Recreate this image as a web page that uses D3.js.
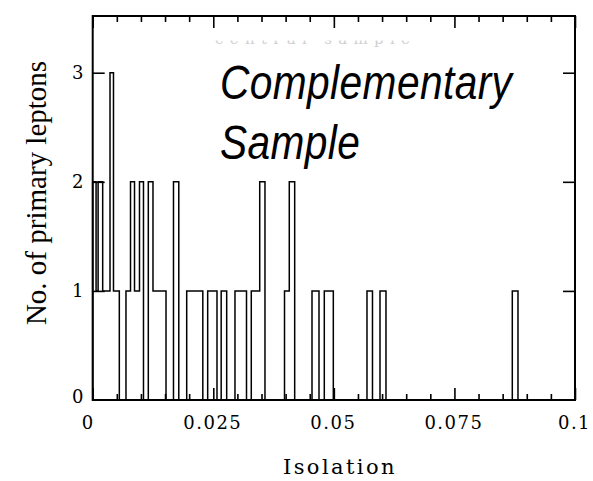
<!DOCTYPE html>
<html>
<head>
<meta charset="utf-8">
<script src="https://cdn.jsdelivr.net/npm/d3@7"></script>
<style>
  body { margin: 0; background: #fff; }
  svg { display: block; }
</style>
</head>
<body>
<svg id="chart" width="593" height="481"></svg>
<script>
// histogram read off the plot as steps:
// stepEdge = isolation value where the content changes, stepCount = content from there on
const stepEdge  = [0, 0.0007, 0.00112, 0.00207, 0.00359, 0.00431, 0.00552,
                   0.0069, 0.00784, 0.00867, 0.0097, 0.01053, 0.01153, 0.0125, 0.0152,
                   0.01675, 0.01785, 0.01949, 0.02283, 0.02384, 0.02577, 0.02664, 0.02778,
                   0.0295, 0.03189, 0.03288, 0.03463, 0.03572, 0.03977, 0.04076, 0.04188,
                   0.04547, 0.04692, 0.04802, 0.04989, 0.05687, 0.05801, 0.05957, 0.06081,
                   0.087, 0.08818];
const stepCount = [2, 1, 2, 1, 3, 1, 0,
                   1, 2, 1, 2, 0, 2, 1, 0,
                   2, 0, 1, 0, 1, 0, 1, 0,
                   1, 0, 1, 2, 0, 1, 2, 0,
                   1, 0, 1, 0, 1, 0, 1, 0,
                   1, 0];

const xMajor = [0, 0.025, 0.05, 0.075, 0.1];
const xMajorLabels = ["0", "0.025", "0.05", "0.075", "0.1"];
const xMinorStep = 0.005;
const yMajor = [0, 1, 2, 3];
const yMajorLabels = ["0", "1", "2", "3"];

const xTitle = "Isolation";
const yTitle = "No. of primary leptons";
const ghostLabel = "central sample";
const sampleLabel = ["Complementary", "Sample"];

// ---------------------------//
//      SCALES / FRAME        //
// ---------------------------//
const plotLeft = 92.7, plotRight = 575, plotTop = 16, plotBottom = 400;
const svg = d3.select("#chart");

const x = d3.scaleLinear().domain([0, 0.1]).range([plotLeft, plotRight]);
const y = d3.scaleLinear().domain([0, 3.52]).range([plotBottom, plotTop]);

const xMinor = d3.range(0, 0.1 + 1e-9, xMinorStep).filter(v => !xMajor.some(m => Math.abs(m - v) < 1e-9));

// ghost label hidden behind the white box of the big label
svg.append("text")
  .attr("x", 215).attr("y", 44)
  .attr("textLength", 195)
  .style("font-family", "DejaVu Serif")
  .style("font-size", "15px")
  .style("fill", "#d0d0d0")
  .text(ghostLabel);
svg.append("rect")
  .attr("x", 205).attr("y", 30).attr("width", 220).attr("height", 10.5)
  .attr("fill", "#fff");

// ticks
function tickAxis(axis, size, vals, fmt) {
  return axis.tickValues(vals).tickSize(size).tickFormat(fmt || "");
}
const tickStyle = g => {
  g.select(".domain").remove();
  g.selectAll("line").attr("stroke", "#000").attr("stroke-width", 1.6);
};

svg.append("g").attr("transform", `translate(0,${plotBottom})`)
  .call(tickAxis(d3.axisBottom(x), -6, xMinor)).call(tickStyle);
svg.append("g").attr("transform", `translate(0,${plotTop})`)
  .call(tickAxis(d3.axisTop(x), -6, xMinor)).call(tickStyle);
svg.append("g").attr("transform", `translate(0,${plotTop})`)
  .call(tickAxis(d3.axisTop(x), -12, xMajor)).call(tickStyle);
svg.append("g").attr("transform", `translate(${plotRight},0)`)
  .call(tickAxis(d3.axisRight(y), -12, yMajor.slice(1))).call(tickStyle);

const xAx = svg.append("g").attr("transform", `translate(0,${plotBottom})`)
  .call(tickAxis(d3.axisBottom(x), -12, xMajor, (d, i) => xMajorLabels[i]))
  .call(tickStyle);
xAx.selectAll("text")
  .attr("y", 16)
  .attr("dx", (d, i) => i === 0 ? -5 : -1)
  .style("font-family", "DejaVu Serif")
  .style("font-size", "18px")
  .style("letter-spacing", "1.5px")
  .style("fill", "#000");

const yAx = svg.append("g").attr("transform", `translate(${plotLeft},0)`)
  .call(tickAxis(d3.axisLeft(y), -12, yMajor, (d, i) => yMajorLabels[i]))
  .call(tickStyle);
yAx.selectAll("line").filter(d => d === 0).remove();
yAx.selectAll("text")
  .attr("x", -15)
  .attr("text-anchor", "middle")
  .attr("dy", (d) => d === 0 ? "0.15em" : "0.32em")
  .style("font-family", "DejaVu Serif")
  .style("font-size", "18px")
  .style("fill", "#000");

// ---------------------------//
//      HISTOGRAM             //
// ---------------------------//
const steps = [[0, 0]].concat(stepEdge.map((e, i) => [e, stepCount[i]]));
const line = d3.line()
  .x(d => x(d[0]))
  .y(d => y(d[1]))
  .curve(d3.curveStepAfter);

svg.append("path")
  .datum(steps)
  .attr("d", line)
  .attr("fill", "none")
  .attr("stroke", "#000")
  .attr("stroke-width", 1.5);

// frame
svg.append("rect")
  .attr("x", plotLeft).attr("y", plotTop)
  .attr("width", plotRight - plotLeft).attr("height", plotBottom - plotTop)
  .attr("fill", "none")
  .attr("stroke", "#000")
  .attr("stroke-width", 2);

// ---------------------------//
//      TITLES                //
// ---------------------------//
svg.append("text")
  .attr("x", 283).attr("y", 474)
  .style("font-family", "DejaVu Serif")
  .style("font-size", "21px")
  .style("letter-spacing", "2.4px")
  .text(xTitle);

svg.append("text")
  .attr("transform", "translate(46,193) rotate(-90)")
  .attr("text-anchor", "middle")
  .style("font-family", "Liberation Serif")
  .style("font-size", "29px")
  .text(yTitle);

svg.append("g")
  .selectAll("text")
  .data(sampleLabel)
  .join("text")
  .attr("transform", (d, i) => `translate(220,${99 + i * 60}) scale(0.83,1)`)
  .style("font-family", "Liberation Sans")
  .style("font-style", "italic")
  .style("font-size", "49px")
  .style("letter-spacing", "0.5px")
  .text(d => d);
</script>
</body>
</html>
